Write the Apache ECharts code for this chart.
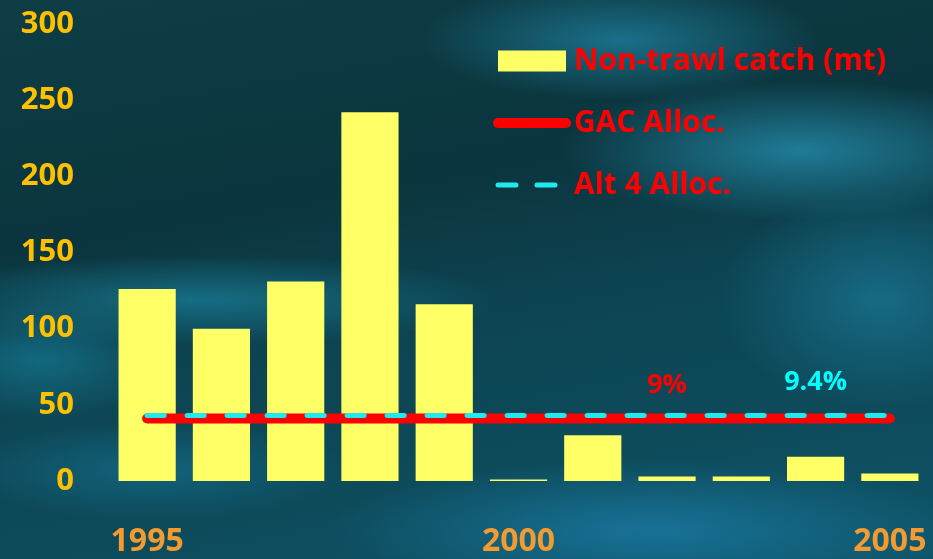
<!DOCTYPE html>
<html>
<head>
<meta charset="utf-8">
<script src="https://cdn.jsdelivr.net/npm/echarts@6/dist/echarts.min.js"></script>
<style>
  html, body { margin: 0; padding: 0; }
  #chart {
    width: 933px; height: 559px;
    background:
      radial-gradient(ellipse 200px 60px at 620px 40px, rgba(30,125,155,0.8), rgba(30,125,155,0) 100%),
      radial-gradient(ellipse 240px 70px at 800px 150px, rgba(35,135,165,0.85), rgba(35,135,165,0) 100%),
      radial-gradient(ellipse 160px 110px at 880px 300px, rgba(25,115,145,0.8), rgba(25,115,145,0) 100%),
      radial-gradient(ellipse 300px 45px at 200px 300px, rgba(25,125,150,0.75), rgba(25,125,150,0) 100%),
      radial-gradient(ellipse 140px 60px at 40px 360px, rgba(20,115,140,0.8), rgba(20,115,140,0) 100%),
      radial-gradient(ellipse 320px 70px at 650px 530px, rgba(25,120,160,0.85), rgba(25,120,160,0) 100%),
      radial-gradient(ellipse 200px 50px at 150px 470px, rgba(20,110,140,0.7), rgba(20,110,140,0) 100%),
      linear-gradient(170deg, #0d3d45 0%, #0b353e 35%, #0d4452 55%, #0d4a5a 75%, #0e5468 100%);
  }
</style>
</head>
<body>
<div id="chart"></div>
<script>
  var years = ['1995','1996','1997','1998','1999','2000','2001','2002','2003','2004','2005'];
  var yearLabels = ['1995','2000','2005'];
  var nonTrawlCatch = [126, 100, 131, 242, 116, 1, 30, 3, 3, 16, 5];
  var gacAlloc = [41, 41, 41, 41, 41, 41, 41, 41, 41, 41, 41];
  var alt4Alloc = [43, 43, 43, 43, 43, 43, 43, 43, 43, 43, 43];
  // share labels sit above the lines at these years
  var gacLabel = '9%';
  var alt4Label = '9.4%';
  var gacLabelYear = '2002';
  var alt4LabelYear = '2004';

  var font = 'Open Sans';

  function shareMark(arr, year, text, color) {
    var i = years.indexOf(year);
    return {
      silent: true,
      symbol: 'circle',
      symbolSize: 2,
      itemStyle: { color: 'rgba(0,0,0,0)' },
      label: {
        show: true, position: 'top', distance: 19,
        formatter: text,
        color: color, fontFamily: font, fontWeight: 'bold', fontSize: 27
      },
      data: [{ coord: [year, arr[i]] }]
    };
  }

  var myChart = echarts.init(document.getElementById('chart'));
  var option = {
    animation: false,
    grid: { left: 110, right: 6, top: 24, bottom: 78 },
    legend: {
      orient: 'vertical',
      left: 493, top: 46,
      padding: 0,
      itemWidth: 68, itemHeight: 21, itemGap: 32,
      textStyle: { color: '#ff0000', fontFamily: font, fontWeight: 'bold', fontSize: 30, padding: [0, 0, 0, 3] },
      data: [
        { name: 'Non-trawl catch (mt)', icon: 'rect' },
        { name: 'GAC Alloc.', itemStyle: { opacity: 0 }, lineStyle: { width: 10, cap: 'round' } },
        { name: 'Alt 4 Alloc.', itemStyle: { opacity: 0 }, lineStyle: { width: 5, cap: 'round', type: [18, 21] } }
      ]
    },
    xAxis: {
      type: 'category',
      data: years,
      axisLine: { show: false },
      axisTick: { show: false },
      axisLabel: {
        interval: 0, margin: 45,
        color: '#f39a30', fontFamily: font, fontWeight: 'bold', fontSize: 32,
        formatter: function (v) { return yearLabels.indexOf(v) >= 0 ? v : ''; }
      }
    },
    yAxis: {
      type: 'value',
      min: 0, max: 300, interval: 50,
      splitLine: { show: false },
      axisLine: { show: false },
      axisLabel: { margin: 36, color: '#ffc000', fontFamily: font, fontWeight: 'bold', fontSize: 31 }
    },
    series: [
      {
        name: 'Non-trawl catch (mt)',
        type: 'bar',
        data: nonTrawlCatch,
        barCategoryGap: '23%',
        itemStyle: { color: '#ffff66' }
      },
      {
        name: 'GAC Alloc.',
        type: 'line',
        data: gacAlloc,
        symbol: 'none',
        itemStyle: { color: '#ff0000' },
        lineStyle: { color: '#ff0000', width: 10, cap: 'round' },
        markPoint: shareMark(gacAlloc, gacLabelYear, gacLabel, '#ff0000')
      },
      {
        name: 'Alt 4 Alloc.',
        type: 'line',
        data: alt4Alloc,
        symbol: 'none',
        itemStyle: { color: '#00ffff' },
        lineStyle: { color: '#22e8f0', width: 5, type: [17, 23], cap: 'round' },
        markPoint: shareMark(alt4Alloc, alt4LabelYear, alt4Label, '#00ffff')
      }
    ]
  };
  myChart.setOption(option);
</script>
</body>
</html>
